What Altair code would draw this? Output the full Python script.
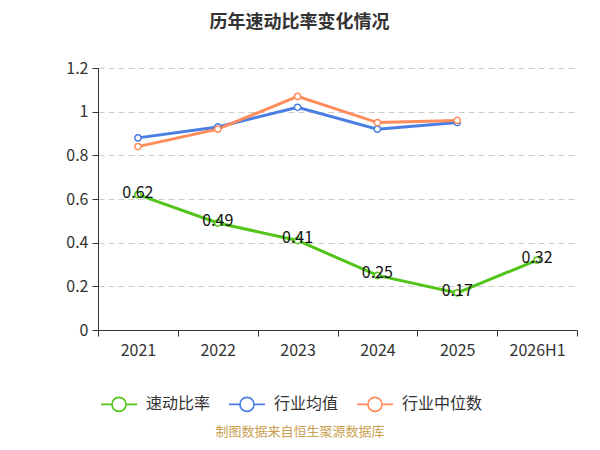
import altair as alt
import pandas as pd

years = ["2021", "2022", "2023", "2024", "2025", "2026H1"]
quick_ratio = [0.62, 0.49, 0.41, 0.25, 0.17, 0.32]
industry_avg = [0.88, 0.93, 1.02, 0.92, 0.95]
industry_median = [0.84, 0.92, 1.07, 0.95, 0.96]
series_names = ["速动比率", "行业均值", "行业中位数"]
colors = ["#52c41a", "#4a7ee3", "#ff8c5a"]

rows = []
for y, v in zip(years, quick_ratio):
    rows.append({"year": y, "value": v, "series": series_names[0]})
for y, v in zip(years, industry_avg):
    rows.append({"year": y, "value": v, "series": series_names[1]})
for y, v in zip(years, industry_median):
    rows.append({"year": y, "value": v, "series": series_names[2]})
df = pd.DataFrame(rows)
labels_df = pd.DataFrame({"year": years, "value": quick_ratio})

FONT = "Noto Sans CJK SC"

x_enc = alt.X("year:N", sort=years, title=None,
              scale=alt.Scale(paddingInner=0, paddingOuter=0),
              axis=alt.Axis(labelAngle=0, labelFontSize=16, labelColor="#333",
                            labelFont=FONT, labelPadding=6,
                            domainColor="#333", tickColor="#333", tickSize=6,
                            tickBand="extent", grid=False, ticks=True))
y_enc = alt.Y("value:Q", title=None,
              scale=alt.Scale(domain=[0, 1.2], nice=False, zero=True),
              axis=alt.Axis(values=[0, 0.2, 0.4, 0.6, 0.8, 1.0, 1.2], format="~g",
                            labelFontSize=16, labelColor="#333", labelFont=FONT,
                            domainColor="#333", tickColor="#333", tickSize=6,
                            labelPadding=4,
                            grid=True, gridColor="#cccccc", gridDash=[6, 4]))
stroke_enc = alt.Stroke("series:N", sort=series_names,
                        scale=alt.Scale(domain=series_names, range=colors),
                        legend=alt.Legend(title=None, orient="none", direction="horizontal",
                                          legendX=2, legendY=317,
                                          labelFontSize=16, labelColor="#333", labelFont=FONT,
                                          symbolType="M-1,0L-0.39,0M0.39,0L1,0M0.39,0A0.39,0.39 0 1,1 -0.39,0A0.39,0.39 0 1,1 0.39,0",
                                          symbolSize=1296, symbolStrokeWidth=1.6,
                                          symbolFillColor="white", labelOffset=8,
                                          columnPadding=14))

base = alt.Chart(df).encode(x=x_enc, y=y_enc, stroke=stroke_enc)
lines = base.mark_line(strokeWidth=3)
points = base.mark_point(fill="white", filled=False, opacity=1, size=40, strokeWidth=1.5)

labels = alt.Chart(labels_df).mark_text(fontSize=16, color="#111", font=FONT,
                                        baseline="middle", dy=-2).encode(
    x=alt.X("year:N", sort=years), y="value:Q", text=alt.Text("value:Q", format=".2f"))

source = alt.Chart(pd.DataFrame({"t": ["制图数据来自恒生聚源数据库"]})).mark_text(
    fontSize=13, color="#c9a050", font=FONT, align="center", baseline="middle").encode(
    x=alt.value(202), y=alt.value(364), text="t:N")

chart = alt.layer(lines, points, labels, source).properties(
    width=479, height=262,
    padding={"left": 90, "top": 60, "right": 12, "bottom": 110},
    autosize=alt.AutoSizeParams(type="none"),
    title=alt.TitleParams("历年速动比率变化情况", fontSize=18, font=FONT, fontWeight="bold",
                          color="#333", anchor="middle", dx=-38, offset=28),
).configure_view(stroke=None)

chart.save("out.html", embed_options={"renderer": "svg", "actions": False})
